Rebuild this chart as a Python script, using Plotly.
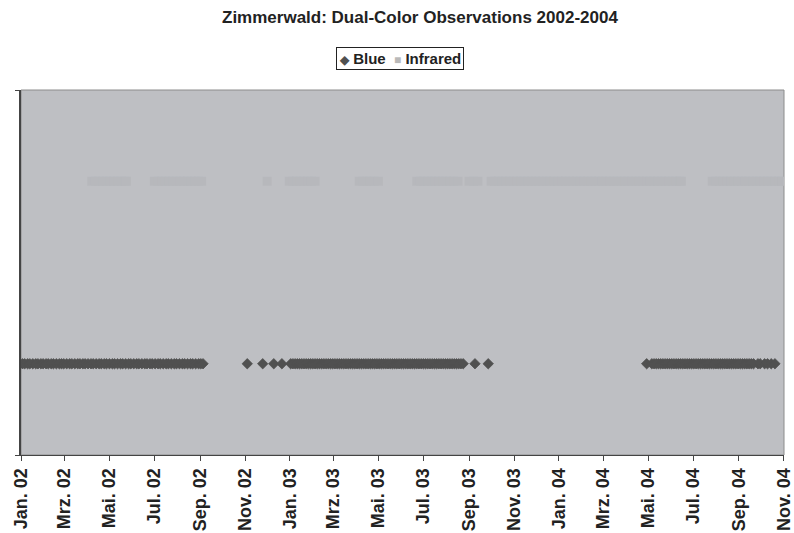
import plotly.graph_objects as go

# Observation nights per laser colour (month-day), grouped by calendar year
blue_2002 = [
    "01-03", "01-06", "01-10", "01-13", "01-17", "01-21", "01-24", "01-28", "01-31",
    "02-04", "02-07", "02-11", "02-14", "02-18", "02-22", "02-25", "02-28",
    "03-04", "03-08", "03-11", "03-15", "03-19", "03-22", "03-26", "03-29",
    "04-02", "04-06", "04-09", "04-13", "04-17", "04-20", "04-24", "04-27",
    "05-01", "05-05", "05-08", "05-12", "05-16", "05-19", "05-23", "05-27", "05-30",
    "06-03", "06-07", "06-10", "06-14", "06-18", "06-21", "06-25", "06-28",
    "07-02", "07-06", "07-09", "07-13", "07-17", "07-20", "07-24", "07-28", "07-31",
    "08-04", "08-08", "08-11", "08-15", "08-19", "08-22", "08-26", "08-30",
    "09-02", "09-05",
    "11-04", "11-25", "12-10", "12-21",
]
blue_2003 = [
    "01-02", "01-05", "01-08", "01-11", "01-14", "01-17", "01-20", "01-23", "01-26", "01-29",
    "02-01", "02-04", "02-07", "02-10", "02-13", "02-16", "02-19", "02-22", "02-25", "02-28",
    "03-03", "03-06", "03-09", "03-12", "03-15", "03-18", "03-21", "03-24", "03-27", "03-30",
    "04-02", "04-05", "04-08", "04-11", "04-14", "04-17", "04-20", "04-23", "04-26", "04-29",
    "05-02", "05-05", "05-08", "05-11", "05-14", "05-17", "05-20", "05-23", "05-26", "05-29",
    "06-01", "06-04", "06-07", "06-10", "06-13", "06-16", "06-19", "06-22", "06-25", "06-28",
    "07-01", "07-04", "07-07", "07-10", "07-13", "07-16", "07-19", "07-22", "07-25", "07-28", "07-31",
    "08-03", "08-06", "08-09", "08-12", "08-15", "08-18", "08-21", "08-24",
    "09-09", "09-27",
]
blue_2004 = [
    "04-29",
    "05-06", "05-09", "05-12", "05-15", "05-18", "05-21", "05-24", "05-27", "05-30",
    "06-02", "06-05", "06-08", "06-11", "06-14", "06-17", "06-20", "06-23", "06-26", "06-29",
    "07-02", "07-05", "07-08", "07-11", "07-14", "07-17", "07-20", "07-23", "07-26", "07-29",
    "08-01", "08-04", "08-07", "08-10", "08-13", "08-16", "08-19", "08-22", "08-25", "08-28", "08-31",
    "09-03", "09-06", "09-09", "09-12", "09-15", "09-18", "09-21", "09-27", "09-30",
    "10-06", "10-10", "10-15", "10-20",
]

infrared_2002 = [
    "04-07", "04-12", "04-17", "04-22", "04-27", "05-02", "05-07", "05-12", "05-17", "05-22", "05-24",
    "07-01", "07-06", "07-11", "07-16", "07-21", "07-26", "07-31",
    "08-05", "08-10", "08-15", "08-20", "08-25", "08-30", "09-03",
    "12-01", "12-31",
]
infrared_2003 = [
    "01-05", "01-10", "01-15", "01-20", "01-25", "01-30", "02-04",
    "04-05", "04-10", "04-15", "04-20", "04-25", "05-01",
    "06-22", "06-27", "07-02", "07-07", "07-12", "07-17", "07-22", "07-27",
    "08-01", "08-06", "08-11", "08-17",
    "09-01", "09-07", "09-13",
    "10-01", "10-06", "10-11", "10-16", "10-21", "10-26", "10-31",
    "11-05", "11-10", "11-15", "11-20", "11-25", "11-30",
    "12-05", "12-10", "12-15", "12-20", "12-25", "12-31",
]
infrared_2004 = [
    "01-05", "01-10", "01-15", "01-20", "01-25", "01-30",
    "02-04", "02-09", "02-14", "02-19", "02-24", "02-29",
    "03-05", "03-10", "03-15", "03-20", "03-25", "03-30",
    "04-04", "04-09", "04-14", "04-19", "04-24", "04-29",
    "05-04", "05-09", "05-14", "05-19", "05-24", "05-29",
    "06-03", "06-08", "06-13", "06-15",
    "07-27", "08-01", "08-06", "08-11", "08-16", "08-21", "08-26", "08-31",
    "09-05", "09-10", "09-15", "09-20", "09-25", "09-30",
    "10-05", "10-10", "10-15", "10-20", "10-25", "10-30",
]

# Category levels on the (hidden) value axis
blue_level = 1
infrared_level = 3

tick_dates = [
    "2002-01-01", "2002-03-01", "2002-05-01", "2002-07-01", "2002-09-01", "2002-11-01",
    "2003-01-01", "2003-03-01", "2003-05-01", "2003-07-01", "2003-09-01", "2003-11-01",
    "2004-01-01", "2004-03-01", "2004-05-01", "2004-07-01", "2004-09-01", "2004-11-01",
]
tick_labels = [
    "Jan. 02", "Mrz. 02", "Mai. 02", "Jul. 02", "Sep. 02", "Nov. 02",
    "Jan. 03", "Mrz. 03", "Mai. 03", "Jul. 03", "Sep. 03", "Nov. 03",
    "Jan. 04", "Mrz. 04", "Mai. 04", "Jul. 04", "Sep. 04", "Nov. 04",
]


def with_year(year, days):
    return [f"{year}-{d}" for d in days]


blue_dates = with_year(2002, blue_2002) + with_year(2003, blue_2003) + with_year(2004, blue_2004)
infrared_dates = (with_year(2002, infrared_2002) + with_year(2003, infrared_2003)
                  + with_year(2004, infrared_2004))

BLUE_COLOR = "#505050"
IR_COLOR = "#B7B8BC"
IR_KEY_COLOR = "#B9B9B9"
FONT = "Liberation Sans, Arial, sans-serif"

fig = go.Figure()
fig.add_trace(go.Scatter(
    x=infrared_dates, y=[infrared_level] * len(infrared_dates),
    mode="markers", name="Infrared", showlegend=False,
    marker=dict(symbol="square", size=9, color=IR_COLOR, line=dict(width=0)),
))
fig.add_trace(go.Scatter(
    x=blue_dates, y=[blue_level] * len(blue_dates),
    mode="markers", name="Blue", showlegend=False,
    marker=dict(symbol="diamond", size=8, color=BLUE_COLOR,
                line=dict(width=0.8, color=BLUE_COLOR)),
))

# Plot-area frame
fig.add_shape(type="rect", xref="paper", yref="paper", x0=0, x1=1, y0=0, y1=1,
              line=dict(color="#8C8C8C", width=1), layer="below")

# Legend box
fig.add_annotation(
    xref="paper", yref="paper", x=0.497, y=1.086, xanchor="center", yanchor="middle",
    text=(f"<span style='color:{BLUE_COLOR};font-size:12px'>◆</span> Blue  "
          f"<span style='color:{IR_KEY_COLOR};font-size:12px'>■</span> Infrared"),
    showarrow=False, bgcolor="white", bordercolor="#222", borderwidth=1, borderpad=2,
    font=dict(family=FONT, size=15, color="#222", weight="bold"),
)

fig.update_layout(
    width=794, height=533,
    margin=dict(l=21, r=10, t=90, b=78, autoexpand=False),
    paper_bgcolor="white",
    plot_bgcolor="#BEBFC3",
    title=dict(text="Zimmerwald: Dual-Color Observations 2002-2004",
               x=222 / 794, xanchor="left", y=1 - 17 / 533, yanchor="middle",
               font=dict(family=FONT, size=17, color="#222", weight="bold")),
    xaxis=dict(
        type="date", range=["2002-01-01", "2004-11-01 08:00"], automargin=False,
        tickmode="array", tickvals=tick_dates, ticktext=tick_labels, tickangle=-90,
        ticklabeloverflow="allow",
        ticks="outside", ticklen=5, tickcolor="#444", tickwidth=1,
        showline=True, linecolor="#444", linewidth=1, showgrid=False, zeroline=False,
        tickfont=dict(family=FONT, size=18, color="#222", weight="bold"),
    ),
    yaxis=dict(
        range=[0, 4], tickmode="array", tickvals=[0, 4], showticklabels=False,
        automargin=False,
        ticks="outside", ticklen=4, tickcolor="#444",
        showline=True, linecolor="#444", linewidth=1.5, showgrid=False, zeroline=False,
    ),
)

fig.write_html("out.html")
